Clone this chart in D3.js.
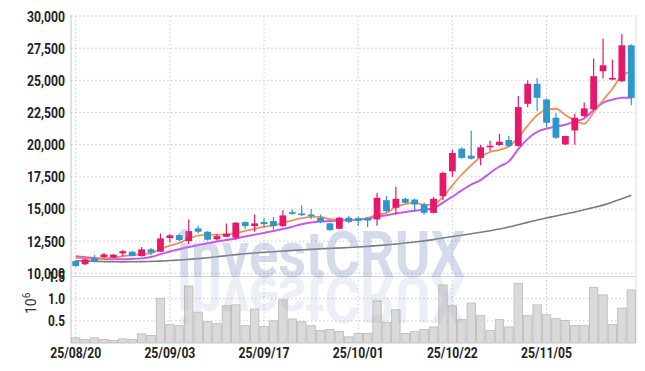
<!DOCTYPE html>
<html lang="en">
<head>
<meta charset="UTF-8">
<title>candles</title>
<script src="https://cdn.jsdelivr.net/npm/d3@7"></script>
<style>
  body { margin: 0; background: #fff; }
  text { font-family: "Roboto", "Liberation Sans", sans-serif; }
</style>
</head>
<body>
<div id="chart"></div>
<script>
// trading days (yy/mm/dd)
var dates = ["25/08/20","25/08/21","25/08/22","25/08/25","25/08/26","25/08/27","25/08/28","25/08/29",
  "25/09/01","25/09/02","25/09/03","25/09/04","25/09/05","25/09/08","25/09/09","25/09/10","25/09/11","25/09/12",
  "25/09/15","25/09/16","25/09/17","25/09/18","25/09/19","25/09/22","25/09/23","25/09/24","25/09/25","25/09/26",
  "25/09/29","25/09/30","25/10/01","25/10/02","25/10/10","25/10/13","25/10/14","25/10/15","25/10/16","25/10/17",
  "25/10/20","25/10/21","25/10/22","25/10/23","25/10/24","25/10/27","25/10/28","25/10/29","25/10/30","25/10/31",
  "25/11/03","25/11/04","25/11/05","25/11/06","25/11/07","25/11/10","25/11/11","25/11/12","25/11/13","25/11/14",
  "25/11/17","25/11/18"];

var open  = [10950,10700,11200,11260,11220,11550,11680,11340,11860,11680,12740,12970,12500,13490,13230,12640,12840,12770,
  13980,13670,13980,14060,13670,14750,14650,14570,14320,13880,13460,14320,14280,14300,14185,15680,15090,15790,15735,15350,
  14700,15990,17930,19690,19145,18970,19790,19970,20360,19900,23175,24725,23510,22090,20020,21100,22220,22740,25700,25060,
  24935,27720];
var high  = [11000,11150,11420,11570,11500,11820,11720,12040,11960,13100,13050,13100,14180,13700,13280,13050,13870,13980,
  14020,14570,14300,14380,14900,14950,15270,15000,14570,13950,14400,14480,14400,14350,16250,16000,16720,15900,15800,15500,
  15950,17900,19600,19800,21080,20000,20300,20850,20700,23780,24980,25190,23600,22450,20700,22400,23270,26690,28240,26600,
  28600,27800];
var low   = [10500,10650,10900,11220,11200,11320,11300,11300,11400,11650,12400,12500,12250,13100,12550,12550,12800,12600,
  13450,13230,13600,13400,13620,14550,14450,14200,13900,13300,13400,13900,13700,13600,13700,14750,14570,15400,14800,14550,
  14650,15700,17500,18900,18850,18400,19500,19900,19850,19850,22900,22600,21350,20450,19950,20000,22150,22650,25150,25000,
  24850,23070];
var close = [10570,11080,10950,11470,11450,11720,11340,11860,11600,12710,12950,12580,13280,13230,12610,12890,13080,13930,
  13670,13880,13820,13670,14500,14620,14520,14440,14000,13360,14320,14000,14090,14100,15870,14830,15790,15480,15350,14700,
  15790,17800,19350,18970,18910,19790,19920,20230,19900,22920,24725,23640,21700,20540,20670,22090,22815,25320,26170,25190,
  27720,23640];

// moving averages
var maShort = [11200,11160,11140,11170,11200,11330,11420,11480,11560,11880,12150,12360,12700,12930,12990,13000,13000,13120,
  13300,13460,13600,13720,13920,14120,14280,14390,14390,14200,14170,14130,14180,14300,14560,14700,15160,15380,15500,15310,
  15350,15930,16840,17680,18400,19040,19430,19600,19850,20560,21480,22300,22700,22790,22300,21880,21620,22530,23450,24350,
  25360,25650];
var maMid = [11320,11250,11180,11110,11090,11100,11120,11160,11270,11480,11700,11870,12040,12190,12340,12470,12590,12710,
  12860,13000,13140,13280,13440,13620,13820,13950,14020,14060,14100,14130,14170,14250,14400,14520,14650,14760,14870,14950,
  15060,15500,15950,16450,16900,17250,17800,18300,18700,19650,20450,21000,21250,21400,21550,21800,22050,22700,23250,23500,
  23650,23650];
var maLong = [10980,10960,10930,10910,10900,10890,10900,10910,10930,10950,10990,11030,11080,11140,11210,11290,11370,11450,
  11520,11580,11630,11680,11730,11780,11820,11860,11900,11940,11970,12000,12040,12090,12150,12210,12280,12350,12430,12520,
  12620,12740,12860,12960,13070,13190,13310,13440,13600,13780,13960,14140,14300,14460,14610,14770,14940,15110,15300,15540,
  15800,16060];

// volume in millions
var volume = [0.116,0.08,0.116,0.08,0.056,0.093,0.08,0.206,0.168,1.01,0.414,0.39,1.286,0.698,0.48,0.436,0.84,0.86,0.39,
  0.765,0.376,0.5,0.973,0.54,0.48,0.39,0.28,0.302,0.257,0.138,0.212,0.212,0.95,0.466,0.75,0.212,0.257,0.302,0.362,1.31,
  0.84,0.526,0.9,0.615,0.28,0.526,0.362,1.347,0.615,0.86,0.638,0.548,0.51,0.39,0.39,1.257,1.085,0.414,0.787,1.197];

var priceTicks = [10000,12500,15000,17500,20000,22500,25000,27500,30000];
var volTicks = [0.5,1.0,1.5];
var dateTicks = ["25/08/20","25/09/03","25/09/17","25/10/01","25/10/22","25/11/05"];

var W = 645, H = 371;
var left = 71, right = 636;

var svg = d3.select("#chart").append("svg")
  .attr("width", W).attr("height", H);

var x = d3.scaleBand().domain(dates).range([left, right]);
var cx = function(d){ return x(d) + x.bandwidth()/2; };

var y = d3.scaleLinear().domain([10000, 30000]).range([273.3, 16]);
var yv = d3.scaleLinear().domain([0, 1.5]).range([343, 276.5]);

var grid = "#c9c9d9";

// horizontal grid, price panel
svg.append("g").selectAll("line").data(priceTicks).enter().append("line")
  .attr("x1", left).attr("x2", right)
  .attr("y1", function(d){ return y(d); }).attr("y2", function(d){ return y(d); })
  .attr("stroke", grid).attr("stroke-dasharray", "1.5,2.5");

// volume grid
svg.append("g").selectAll("line").data(volTicks).enter().append("line")
  .attr("x1", left).attr("x2", right)
  .attr("y1", function(d){ return yv(d); }).attr("y2", function(d){ return yv(d); })
  .attr("stroke", grid).attr("stroke-dasharray", "1.5,2.5");

// vertical grid
svg.append("g").selectAll("line").data(dateTicks).enter().append("line")
  .attr("x1", cx).attr("x2", cx)
  .attr("y1", 16).attr("y2", 343)
  .attr("stroke", grid).attr("stroke-dasharray", "1.5,2.5");

// frame
svg.append("line").attr("x1", left).attr("x2", left).attr("y1", 15).attr("y2", 343)
  .attr("stroke", "#c4c4cc");
svg.append("line").attr("x1", right).attr("x2", right).attr("y1", 15).attr("y2", 343)
  .attr("stroke", "#dcdce4");
svg.append("line").attr("x1", left).attr("x2", right).attr("y1", 276.5).attr("y2", 276.5)
  .attr("stroke", "#d6d6e0");

// volume bars
svg.append("g").selectAll("rect").data(dates).enter().append("rect")
  .attr("x", function(d){ return x(d) + 0.5; })
  .attr("width", x.bandwidth() - 1)
  .attr("y", function(d, i){ return yv(volume[i]); })
  .attr("height", function(d, i){ return yv(0) - yv(volume[i]); })
  .attr("fill", "#dadada").attr("stroke", "#b8b8b8").attr("stroke-width", 0.8);

// moving averages
function maLine(vals, color, w, op) {
  var line = d3.line()
    .x(function(d, i){ return cx(dates[i]); })
    .y(function(d){ return y(d); })
    .curve(d3.curveMonotoneX);
  svg.append("path").datum(vals)
    .attr("d", line).attr("fill", "none")
    .attr("stroke", color).attr("stroke-width", w).attr("opacity", op);
}
maLine(maLong, "#7b7b7b", 1.6, 1);
maLine(maMid, "#c54ef0", 2, 0.95);
maLine(maShort, "#f08a4f", 1.8, 0.95);

// candles
var up = "#e5186b", down = "#2e96cb";
var candles = svg.append("g").selectAll("g").data(dates).enter().append("g");
candles.append("line")
  .attr("x1", cx).attr("x2", cx)
  .attr("y1", function(d, i){ return y(high[i]); })
  .attr("y2", function(d, i){ return y(low[i]); })
  .attr("stroke", function(d, i){ return close[i] >= open[i] ? up : down; })
  .attr("stroke-width", 1.2);
candles.append("rect")
  .attr("x", function(d){ return cx(d) - 3.4; })
  .attr("width", 6.8)
  .attr("y", function(d, i){ return y(Math.max(open[i], close[i])); })
  .attr("height", function(d, i){ return Math.max(1.5, Math.abs(y(open[i]) - y(close[i]))); })
  .attr("fill", function(d, i){ return close[i] >= open[i] ? up : down; });

// watermark with reflection
var wm = svg.append("g").attr("pointer-events", "none");
wm.append("text")
  .attr("x", 321).attr("y", 277)
  .attr("text-anchor", "middle")
  .attr("font-size", 64).attr("font-weight", "bold")
  .attr("fill", "#8e9cc6").attr("opacity", 0.36)
  .attr("textLength", 288).attr("lengthAdjust", "spacingAndGlyphs")
  .text("investCRUX");
wm.append("text")
  .attr("transform", "translate(0,554) scale(1,-1)")
  .attr("x", 321).attr("y", 277)
  .attr("text-anchor", "middle")
  .attr("font-size", 64).attr("font-weight", "bold")
  .attr("fill", "#8e9cc6").attr("opacity", 0.15)
  .attr("textLength", 288).attr("lengthAdjust", "spacingAndGlyphs")
  .text("investCRUX");

// axis labels (condensed look via textLength)
var fmt = d3.format(",");
function label(sel, w) {
  sel.attr("font-size", 15).attr("font-weight", "bold").attr("fill", "#222")
    .attr("lengthAdjust", "spacingAndGlyphs")
    .attr("textLength", function(d){ return w(d); });
}
svg.append("g").selectAll("text").data(priceTicks).enter().append("text")
  .attr("x", 65).attr("y", function(d){ return y(d) + 5.5; })
  .attr("text-anchor", "end")
  .text(function(d){ return fmt(d); })
  .call(label, function(){ return 38; });

svg.append("g").selectAll("text").data(volTicks).enter().append("text")
  .attr("x", 65).attr("y", function(d){ return yv(d) + 5.5; })
  .attr("text-anchor", "end")
  .text(function(d){ return d.toFixed(1); })
  .call(label, function(){ return 17; });

svg.append("g").selectAll("text").data(dateTicks).enter().append("text")
  .attr("x", cx).attr("y", 358)
  .attr("text-anchor", "middle")
  .text(function(d){ return d; })
  .call(label, function(){ return 51; });

var unit = svg.append("text")
  .attr("transform", "translate(36,314) rotate(-90)")
  .attr("font-size", 14).attr("fill", "#333");
unit.append("tspan").text("10");
unit.append("tspan").attr("dy", -6).attr("font-size", 10).text("6");
</script>
</body>
</html>
